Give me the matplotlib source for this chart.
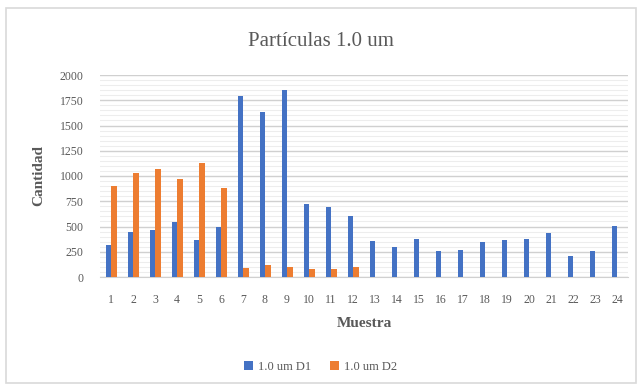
import numpy as np
import matplotlib
matplotlib.use("Agg")
from matplotlib import pyplot as plt
from matplotlib.patches import Rectangle
from matplotlib.ticker import MultipleLocator

# data
muestras = [str(i) for i in range(1, 25)]
d1 = [315, 448, 464, 541, 365, 491, 1791, 1635, 1851, 726, 695, 607,
      355, 299, 378, 262, 269, 348, 365, 378, 431, 212, 255, 501]
d2 = [902, 1028, 1065, 972, 1131, 879, 93, 119, 100, 80, 80, 103,
      0, 0, 0, 0, 0, 0, 0, 0, 0, 0, 0, 0]
series_names = ["1.0 um D1", "1.0 um D2"]

BLUE = "#4472C4"
ORANGE = "#ED7D31"
TXT = "#595959"

plt.rcParams['font.family'] = ['Liberation Serif', 'DejaVu Serif']

fig = plt.figure(figsize=(6.41, 3.86), dpi=100)
fig.patches.append(Rectangle((6/641, 3/386), 630/641, 375/386, transform=fig.transFigure,
                             fill=False, edgecolor="#D9D9D9", linewidth=1.2))

ax = fig.add_axes([100/641, 1 - 277/386, 528/641, 202/386])

x = np.arange(len(muestras))
w = 0.24
ax.bar(x - 0.13, d1, w, color=BLUE, label=series_names[0], zorder=3)
ax.bar(x + 0.13, d2, w, color=ORANGE, label=series_names[1], zorder=3)

ax.set_xlim(-0.5, len(muestras) - 0.5)
ax.set_ylim(0, 2000)
ax.yaxis.set_major_locator(MultipleLocator(250))
ax.yaxis.set_minor_locator(MultipleLocator(50))
ax.grid(axis="y", which="major", color="#D0D0D0", linewidth=1.0, zorder=0)
ax.grid(axis="y", which="minor", color="#EDEDED", linewidth=0.8, zorder=0)
ax.set_axisbelow(True)

ax.set_xticks(x)
ax.set_xticklabels(muestras)
ax.tick_params(axis="both", which="both", length=0, labelsize=8.5, colors=TXT)
ax.tick_params(axis="x", pad=12)
ax.tick_params(axis="y", pad=12)

for s in ["top", "right", "left"]:
    ax.spines[s].set_visible(False)
ax.spines["bottom"].set_color("#D0D0D0")

ax.set_xlabel("Muestra", fontsize=11, fontweight="bold", color=TXT, labelpad=8)
ax.set_ylabel("Cantidad", fontsize=11, fontweight="bold", color=TXT, labelpad=10)

fig.text(0.5, 1 - 42/386, "Partículas 1.0 um", ha="center", va="center",
         fontsize=15, color=TXT)

fig.legend(loc="center", bbox_to_anchor=(0.5, 1 - 367/386), ncol=2, frameon=False,
           fontsize=9, handlelength=0.7, handleheight=0.7, columnspacing=1.5,
           handletextpad=0.4, labelcolor=TXT)

fig.savefig("out.png", dpi=100)
